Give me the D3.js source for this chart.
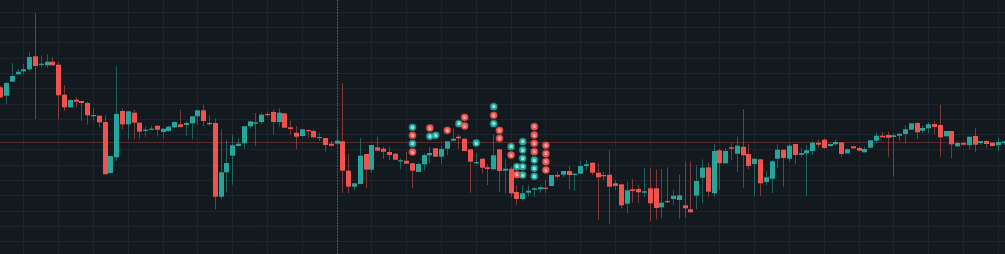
<!DOCTYPE html>
<meta charset="utf-8">
<head>
  <script src="https://d3js.org/d3.v7.min.js"></script>
</head>
<style>
  body { margin: 0; background: #121a1f; }
  svg { display: block; }
  .grid line { stroke: #1b252b; stroke-width: 1; }
  .marker text { font-family: "DejaVu Sans", sans-serif; font-size: 4.5px; font-weight: bold; text-anchor: middle; }
</style>
<body>
<script>
  var width = 1005, height = 254;

  // OHLC, one entry per candle
  var opens = [166.7,158.3,172.3,179.7,182.7,184.7,197.7,189.3,188.7,192.3,
    189.3,159.3,146.7,154.3,153,151,138,138.3,132,81,
    96.7,143,129.7,141.3,131.3,123,124.7,128.3,122,123,
    126.7,129.7,129,130.7,137.7,143.7,131,131,57.3,81.7,
    98.3,108,110.7,127.7,130.3,132,140,142,132,140.7,
    126.7,121.3,118,124,123,116,116,110.3,110.3,112.7,
    83.3,67.3,70,100,84.3,106.7,105.3,102,100.3,92.7,
    93.3,90.7,82,89.7,98.7,105.7,97.3,105.3,113.3,117.3,
    115.3,104.7,90.7,95.3,86.7,84.7,104.7,83.3,85.3,62,
    55,61.3,64.3,64.7,66.3,68,79,79.3,83,79,
    80.3,88,91.3,81.3,79,79.3,70.7,69.7,50.3,64.7,
    65,61.3,65.7,65.7,46.7,53,55,54,48.7,44.7,
    58.3,76.3,86.7,60.7,103.7,90.7,106.7,100.3,107.3,100,
    90,94.7,72,75.3,95.3,104.3,95.3,110,99.3,100.7,
    103,111.3,114.3,108,109.7,111.7,100.7,107.7,106,101.7,
    106.3,113.3,118.3,119,117,118.3,120,124.3,131,123.3,
    125.7,130,129,117.7,123,107.7,111,109,118,111,
    113,111.3,108.7,111];

  var highs = [168,172.3,190.7,184.7,190,202.3,240.7,198.3,199.7,196.7,
    191.7,169,155,156.7,153,152.3,146.3,138.3,138.7,98,
    188,145.7,142.7,144,131.3,127.3,128.3,128.3,125.3,128,
    132.5,144,133.3,137.7,143.7,149,138.7,135.7,125,114,
    119.3,116,127.7,132.7,141,141.3,142.7,144.7,145.7,140.7,
    133.3,128,124.7,124.7,124.7,121.3,116,113,124,170.7,
    100,70.7,116,100,109,117.3,107.3,107.3,100.3,95.7,
    102,90.7,91.3,100.7,107.3,105.7,108.3,112.7,125.7,119.7,
    115.3,104.7,100.7,95.3,89.7,119.7,104.7,94.7,87.3,68.7,
    68.7,68.7,67.3,68.7,74,79,82.3,83,88,80.3,
    93,94,91.3,90.7,82.3,104,74,69.7,72.3,74.7,
    69,86,86,84.7,84.7,86.7,64,79.3,92.7,92.7,
    89,94.7,91.7,109.7,105.3,105.7,110.7,117.3,145,110,
    95.3,94.7,83.3,92.7,109.7,104.3,110.7,110,105.7,109,
    113,114.7,115.7,110.7,114.7,111.7,105.7,108.3,107.3,107.3,
    113.7,121.7,122.3,122.3,120.7,120.3,129,130.7,131.7,128.3,
    131.7,133.3,149,123,123,112.3,112.3,117.3,125.7,113,
    113.7,111.3,116.7,113.5];

  var lows = [156,150,172,179.5,180,182.7,135,186.7,186.3,188.7,
    134.7,143,146.5,146.7,133.3,129.3,133.3,127,79.7,79.5,
    93.3,124.7,114.7,114.7,115.3,117,124,117.3,116.3,122.5,
    126,126.7,118.3,114.7,128.7,128,128,44.7,54.7,61.3,
    69.3,108,105,125.3,108.3,130,137.3,119.7,127,126.3,
    119.3,105,117.3,116.3,116,112.7,102.3,107.3,110.3,61.3,
    60.7,64,70,65.7,81.3,103.3,95,94,94.3,85,
    90.3,65.7,82,83.3,90.7,97.3,89.7,98.7,112.7,105,
    103,61.3,90,80.3,69,84.7,62.3,60.7,57.3,49,
    54,57.3,57.3,61.3,61.3,68,74.7,76.7,64.7,63,
    80.3,84,79,34,74,30,64,45.3,40.7,51.3,
    50.7,57.3,33,34.7,35.7,51.3,49,34.7,36.7,41.3,
    44.7,50.7,57.3,57.3,64,90.7,94,82.3,66.3,84.7,
    58,58,68.7,60.7,85.7,66.7,92.3,90,96.7,58,
    98.7,106.3,105.3,107.3,108.7,97.3,100.7,104.7,103.3,101.7,
    106.3,110.7,116.7,97.3,77.3,113,110.7,124,115,120.7,
    120.7,120,97.3,117.7,95.7,107.3,108.7,105,101.7,108.7,
    105.7,108,102.7,109.5];

  var closes = [156.7,171,178,182.3,184.7,197,188,190.3,192.3,188.7,
    158.7,146.7,154,152.3,151,138.7,139,131.7,79.7,98,
    140,129.7,142.7,131.3,122.3,124.3,125.3,124.3,125.3,127.3,
    132,127,131,137.7,143.7,133,130,57.3,81.7,91,
    108.7,110.3,127.7,132.7,131.7,139.3,139,132,141.3,126.3,
    125,117.3,124.7,122.7,116.7,117,109,108.3,113.3,83.3,
    67.3,70.7,98.3,84.3,109,103.3,102.3,99,94.3,93.7,
    90.3,83.3,90,99,101,97.3,105,112.7,115.3,115.7,
    103,92.3,92,86.3,85,98.7,83,85.3,60.7,55,
    60.7,63.3,65.7,66.7,65.3,79,77.3,83,79,80.3,
    88,89.7,81.3,76.7,77.7,67.3,68,48.7,63.7,63,
    61.7,62.7,50.7,46,51.3,51.7,58.3,58.7,45.7,41.7,
    73,86.3,62.3,103,90.7,103,105.3,108.3,98.7,88,
    95.3,70.7,76.7,92.7,104.3,96,108.3,99,101,103.7,
    111.3,109.3,106,110,112,100,104.7,105.7,103.3,105,
    113.7,118.3,116.7,116.3,118.7,120.3,124.7,130.7,121.7,126,
    129.7,127,116.7,123,109.7,111,109.3,117.3,109.3,113,
    110,108,112,112.5];

  // buy / sell markers: candle index, side, price level
  var markerIndex = [71,71,71,71, 74,74, 75, 77, 79, 80,80, 82, 85,85,85, 86,86, 88,88, 89,89,
    90,90,90,90,90, 92,92,92,92,92,92,92, 94,94,94,94];
  var markerSide = ["B","S","B","S", "S","B", "B", "S", "B", "S","S", "B", "B","S","B", "S","S", "B","S", "B","S",
    "B","B","B","B","B", "S","S","S","S","B","B","B", "S","S","S","S"];
  var markerPrice = [126.7,118.7,110.3,102, 126,117.7, 118.7, 123.7, 130.3, 136.7,128, 111, 147.3,138.7,130.3, 123.7,115.7, 107.3,99, 87.3,79.3,
    112.3,104,95.7,87.3,79, 127.3,119,110.7,102.3,94,85.7,77.7, 108.7,100.3,92.3,84];

  var priceLine = 111.7;     // horizontal level
  var sessionStart = 58;     // dashed divider candle
  var gridPrices = [12.8,28.1,43.4,58.7,74,89.3,104.6,119.9,135.2,150.5,165.8,181.1,196.4,211.7,227,242.3];
  var gridEvery = 6, gridFirst = 4;

  var up = "#26a69a", down = "#ef5350";

  var candles = opens.map(function(o, i) {
    return { i: i, o: o, h: highs[i], l: lows[i], c: closes[i] };
  });

  var x = d3.scaleLinear().domain([0, candles.length - 1]).range([0.7, 1004.1]);
  var y = d3.scaleLinear().domain([0, 254]).range([height, 0]);

  var svg = d3.select("body").append("svg")
    .attr("width", width)
    .attr("height", height);

  svg.append("rect").attr("width", width).attr("height", height).attr("fill", "#121a1f");

  var grid = svg.append("g").attr("class", "grid");
  grid.selectAll("line.h")
    .data(gridPrices)
   .enter().append("line")
    .attr("class", "h")
    .attr("x1", 0).attr("x2", width)
    .attr("y1", function(d) { return Math.round(y(d)) + 0.5; })
    .attr("y2", function(d) { return Math.round(y(d)) + 0.5; });

  grid.selectAll("line.v")
    .data(candles.filter(function(d) { return d.i >= gridFirst && (d.i - gridFirst) % gridEvery === 0; }))
   .enter().append("line")
    .attr("class", "v")
    .attr("y1", 0).attr("y2", height)
    .attr("x1", function(d) { return Math.floor(x(d.i)) + 0.5; })
    .attr("x2", function(d) { return Math.floor(x(d.i)) + 0.5; });

  // price level line
  svg.append("line")
    .attr("x1", 0).attr("x2", width)
    .attr("y1", Math.round(y(priceLine)) + 0.5)
    .attr("y2", Math.round(y(priceLine)) + 0.5)
    .attr("stroke", down)
    .attr("stroke-opacity", 0.3);

  // session divider
  svg.append("line")
    .attr("x1", Math.floor(x(sessionStart)) + 0.5)
    .attr("x2", Math.floor(x(sessionStart)) + 0.5)
    .attr("y1", 0).attr("y2", height)
    .attr("stroke", "#4d555b")
    .attr("stroke-dasharray", "2,1");

  var bodyW = 5;
  var candle = svg.append("g").selectAll("g")
    .data(candles)
   .enter().append("g");

  candle.append("line")
    .attr("x1", function(d) { return Math.round(x(d.i) - bodyW / 2) + 2.5; })
    .attr("x2", function(d) { return Math.round(x(d.i) - bodyW / 2) + 2.5; })
    .attr("y1", function(d) { return y(d.h); })
    .attr("y2", function(d) { return y(d.l); })
    .attr("stroke", function(d) { return d.c >= d.o ? up : down; })
    .attr("stroke-opacity", 0.5);

  candle.append("rect")
    .attr("x", function(d) { return Math.round(x(d.i) - bodyW / 2); })
    .attr("width", bodyW)
    .attr("y", function(d) { return y(Math.max(d.o, d.c)); })
    .attr("height", function(d) { return Math.max(1.2, Math.abs(y(d.o) - y(d.c))); })
    .attr("fill", function(d) { return d.c >= d.o ? up : down; });

  var markers = svg.append("g").selectAll("g")
    .data(markerIndex.map(function(idx, k) { return { i: idx, side: markerSide[k], p: markerPrice[k] }; }))
   .enter().append("g")
    .attr("class", "marker")
    .attr("transform", function(d) { return "translate(" + x(d.i) + "," + y(d.p) + ")"; });

  markers.append("circle")
    .attr("r", 3.4)
    .attr("fill", function(d) { return d.side === "B" ? up : down; })
    .attr("stroke", function(d) { return d.side === "B" ? up : down; })
    .attr("stroke-opacity", 0.35)
    .attr("stroke-width", 1.4);

  markers.append("text")
    .attr("dy", "1.6")
    .attr("fill", function(d) { return d.side === "B" ? "#bfeee9" : "#ffcfcd"; })
    .text(function(d) { return d.side; });
</script>
</body>
